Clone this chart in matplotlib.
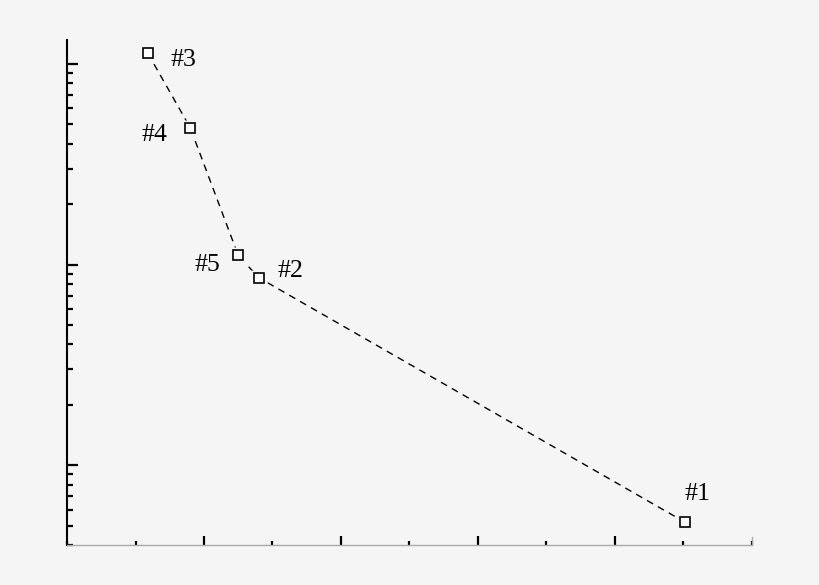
import matplotlib

matplotlib.use("Agg")

import matplotlib.pyplot as plt
from matplotlib.ticker import LogLocator, MultipleLocator, NullFormatter

# run labels and the values
labels = ["#1", "#2", "#3", "#4", "#5"]
x_values = [9.02, 2.80, 1.18, 1.80, 2.50]
y_values = [0.52, 8.6, 113.0, 48.0, 11.1]
x_major_ticks = [2, 4, 6, 8]
x_max = 10

# where each label sits relative to its marker (points), and its alignment
label_offsets = {
    "#1": (-0.5, 15.6, "left"),
    "#2": (13.5, 0.4, "left"),
    "#3": (16.3, -8.9, "left"),
    "#4": (-16.6, -9.6, "right"),
    "#5": (-12.7, -11.5, "right"),
}

BG = "#f5f5f5"

fig = plt.figure(figsize=(8.2, 5.85), dpi=100, facecolor=BG)
ax = fig.add_axes([67 / 820, 40 / 585, (752 - 67) / 820, (545 - 40) / 585])
ax.set_facecolor(BG)

ax.set_yscale("log")
ax.set_xlim(0, x_max)
ax.set_ylim(0.4, 131.6)

# line joins the runs in order of x
order = sorted(range(len(x_values)), key=lambda i: x_values[i])
xs = [x_values[i] for i in order]
ys = [y_values[i] for i in order]
ax.plot(xs, ys, color="black", lw=1.0, linestyle=(0, (5, 4)), zorder=2)
ax.plot(x_values, y_values, linestyle="none", marker="s", ms=11.5,
        mfc=BG, mec="none", zorder=3)
ax.plot(x_values, y_values, linestyle="none", marker="s", ms=7.6,
        mfc="white", mec="black", mew=1.2, zorder=4)

for name, x, y in zip(labels, x_values, y_values):
    dx, dy, ha = label_offsets[name]
    ax.annotate(name, (x, y), xytext=(dx, dy), textcoords="offset points",
                ha=ha, va="baseline", fontsize=18.5, family="Liberation Serif",
                color="black")

for side in ("top", "right"):
    ax.spines[side].set_visible(False)
ax.spines["left"].set_color("black")
ax.spines["left"].set_linewidth(1.5)
ax.spines["bottom"].set_color("#aaaaaa")
ax.spines["bottom"].set_linewidth(1.0)

ax.set_xticks(x_major_ticks)
ax.xaxis.set_minor_locator(MultipleLocator(1))
ax.yaxis.set_major_locator(LogLocator(base=10))
ax.yaxis.set_minor_locator(LogLocator(base=10, subs=range(2, 10)))
for axis in (ax.xaxis, ax.yaxis):
    axis.set_major_formatter(NullFormatter())
    axis.set_minor_formatter(NullFormatter())

ax.tick_params(axis="x", which="major", direction="in", length=6.7, width=1.6, color="black")
ax.tick_params(axis="x", which="minor", direction="in", length=3.1, width=1.6, color="black")
ax.tick_params(axis="y", which="major", direction="in", length=7.9, width=1.6, color="black")
ax.tick_params(axis="y", which="minor", direction="in", length=4.3, width=1.6, color="black")

# faint grey end mark closing the x axis
ax.axvline(x_max, ymin=0, ymax=8 / 505, color="#aaaaaa", lw=1.0, clip_on=False)

fig.savefig("out.png", dpi=100, facecolor=BG)
